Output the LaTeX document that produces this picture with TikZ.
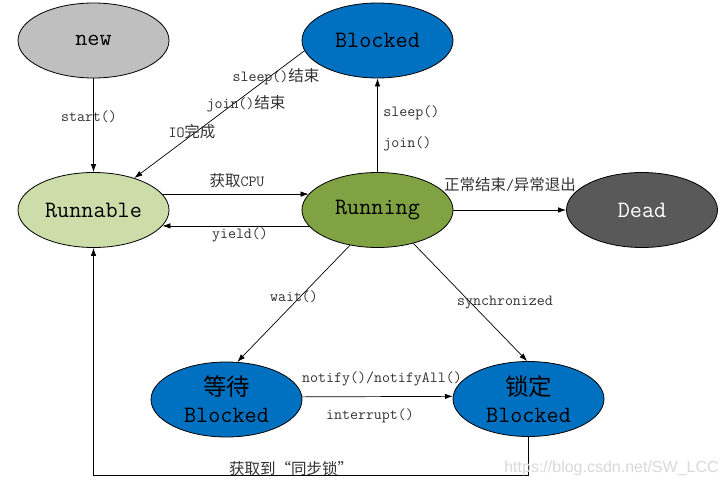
\documentclass[tikz,border=0pt]{standalone}
\usepackage{fontspec}
\newfontfamily\cjk{Noto Sans CJK SC}
\newfontfamily\wmfont{Liberation Sans}
\usetikzlibrary{arrows.meta, shapes.geometric, positioning}
\tikzset{>={Latex[length=8pt,width=5.5pt]}}
\tikzset{
  thread/.style={draw,ellipse,line width=0.8pt,minimum width=151pt,minimum height=75pt,inner sep=0pt,align=center,font=\fontsize{23.5}{27}\selectfont\ttfamily},
  lbl/.style={inner sep=0pt,text=black!80,font=\fontsize{15.5}{18}\selectfont\ttfamily},
}
\definecolor{newgray}{RGB}{191,191,191}
\definecolor{blkblue}{RGB}{0,112,192}
\definecolor{rnbgreen}{RGB}{205,221,170}
\definecolor{rungreen}{RGB}{128,162,66}
\definecolor{deadgray}{RGB}{89,89,89}
\newcommand{\zh}[1]{{\cjk #1}}

\begin{document}
\begin{tikzpicture}[x=1pt,y=-1pt,line width=0.7pt]
    \useasboundingbox[fill=white] (0,0) rectangle (725,487);

    \node[thread,fill=newgray] (new) at (93.5,40.5) {new};
    \node[thread,fill=blkblue] (blk) at (377.5,40.5) {Blocked};
    \node[thread,fill=rnbgreen] (rnb) at (93.5,210) {Runnable};
    \node[thread,fill=rungreen] (run) at (377.5,210) {Running};
    \node[thread,fill=deadgray,text=white] (dead) at (642,210) {Dead};
    \node[thread,fill=blkblue] (wt) at (226.5,399.5) {\zh{等待}\\Blocked};
    \node[thread,fill=blkblue] (lk) at (528.5,399) {\zh{锁定}\\Blocked};

    \draw[->] (new) -- (rnb);
    \draw[->] (blk.188) -- (rnb.38);
    \draw[->] (run) -- (blk);
    \draw[->] (rnb.13) -- (run.167);
    \draw[->] (run.193) -- (rnb.-13);
    \draw[->] (run) -- (dead);
    \draw[->] (run.232) -- (wt.74);
    \draw[->] (run.-43) -- (lk.92);
    \draw[->] (wt.2) -- (lk.178);
    \draw[->] (lk.south) -- ++(0,38) -| (rnb.south);

    \node[lbl] (start) at (89,117) {start()};
    \node[lbl] (sleepend) at (276,77) {sleep()\zh{结束}};
    \node[lbl] (joinend) at (246,104) {join()\zh{结束}};
    \node[lbl] (ioend) at (192,132) {IO\zh{完成}};
    \node[lbl,anchor=west] (sleep) at (383,113) {sleep()};
    \node[lbl,anchor=west] (join) at (383,144) {join()};
    \node[lbl] (getcpu) at (237,181) {\zh{获取}CPU};
    \node[lbl] (yield) at (240,235) {yield()};
    \node[lbl] (finish) at (510,185) {\zh{正常结束}/\zh{异常退出}};
    \node[lbl] (wait) at (294,297) {wait()};
    \node[lbl] (sync) at (505,303) {synchronized};
    \node[lbl] (notify) at (382,379) {notify()/notifyAll()};
    \node[lbl] (intr) at (370,416) {interrupt()};
    \node[lbl] (getlock) at (291,469) {\zh{获取到“同步锁”}};
    \node[inner sep=0pt,text=black!15,font=\fontsize{16}{18}\selectfont\wmfont] (mark) at (611.5,468) {https://blog.csdn.net/SW\_LCC};
\end{tikzpicture}
\end{document}
